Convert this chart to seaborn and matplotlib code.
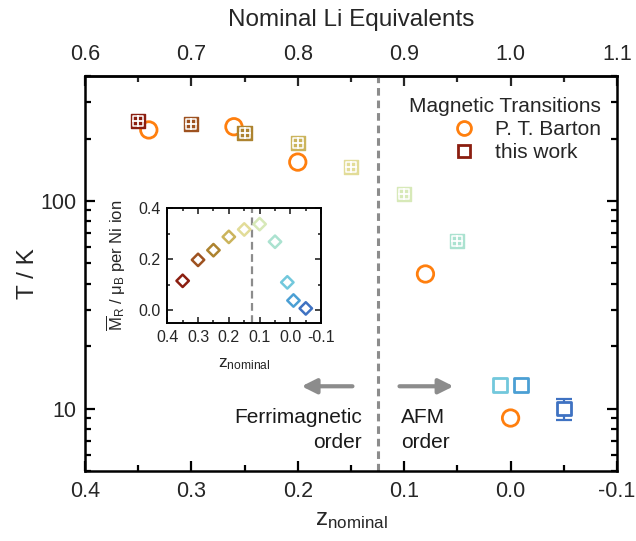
import matplotlib
matplotlib.use("Agg")
import matplotlib.pyplot as plt
import matplotlib.ticker as mticker
from matplotlib.lines import Line2D
import pandas as pd
import seaborn as sns

# transition temperatures, this work
z_work = [0.35, 0.30, 0.25, 0.20, 0.15, 0.10, 0.05, 0.01, -0.01, -0.05]
t_work = [243, 235, 213, 191, 146, 108, 64, 13, 13, 10]
t_work_err = [0, 0, 0, 0, 0, 0, 0, 0, 0, 1.15]
work_crossed = [True, True, True, True, True, True, True, False, False, False]
work_colors = ["#8b1e10", "#9e5220", "#ad832f", "#cbb45c", "#e2dc98",
               "#d7e9b8", "#abe2d0", "#72c8dc", "#4b9fd4", "#3f72c2"]

# transition temperatures, P. T. Barton
z_barton = [0.34, 0.26, 0.20, 0.08, 0.00]
t_barton = [220, 228, 154, 44.5, 9.0]
barton_color = "#ff7f0e"

# inset: remanent magnetisation per Ni ion
m_rem = [0.115, 0.197, 0.235, 0.287, 0.316, 0.337, 0.268, 0.109, 0.038, 0.007]

z_boundary = 0.125
z_ticks = [0.4, 0.3, 0.2, 0.1, 0.0, -0.1]
li_ticks = [0.6, 0.7, 0.8, 0.9, 1.0, 1.1]
m_ticks = [0.0, 0.2, 0.4]

work = pd.DataFrame({"z": z_work, "T": t_work, "err": t_work_err,
                     "crossed": work_crossed, "color": work_colors, "M": m_rem})
barton = pd.DataFrame({"z": z_barton, "T": t_barton})

sns.set_theme(style="ticks")
plt.rcParams["font.family"] = ["Liberation Sans", "DejaVu Sans"]
plt.rcParams["mathtext.default"] = "regular"
plt.rcParams["axes.unicode_minus"] = False

fig = plt.figure(figsize=(6.36, 5.41), dpi=100)
ax = fig.add_axes([0.1336, 0.1294, 0.8365, 0.730])
grey = "#8c8c8c"

ax.axvline(z_boundary, color=grey, lw=2.2, ls=(0, (2.5, 1.6)), zorder=1)

# P. T. Barton (open circles)
sns.scatterplot(data=barton, x="z", y="T", marker="o", s=140, ax=ax, zorder=3)
coll = ax.collections[-1]
coll.set_facecolor("none")
coll.set_edgecolor(barton_color)
coll.set_linewidth(2)

# this work, crossed squares
cr = work[work["crossed"]]
sns.scatterplot(data=cr, x="z", y="T", marker="s", s=105, ax=ax, zorder=4)
coll = ax.collections[-1]
coll.set_facecolor(cr["color"].tolist())
coll.set_edgecolor(cr["color"].tolist())
coll.set_linewidth(1)
sns.scatterplot(data=cr, x="z", y="T", marker="s", s=52, ax=ax, zorder=5)
coll = ax.collections[-1]
coll.set_facecolor("none")
coll.set_edgecolor("white")
coll.set_linewidth(1.1)
sns.scatterplot(data=cr, x="z", y="T", marker="+", s=66, ax=ax, zorder=6)
coll = ax.collections[-1]
coll.set_edgecolor("white")
coll.set_facecolor("white")
coll.set_linewidth(1.3)

# this work, open squares
op = work[~work["crossed"]]
for _, r in op[op["err"] > 0].iterrows():
    ax.errorbar(r["z"], r["T"], yerr=r["err"], fmt="none", ecolor=r["color"],
                elinewidth=1.6, capsize=5.5, capthick=1.6, zorder=3)
sns.scatterplot(data=op, x="z", y="T", marker="s", s=100, ax=ax, zorder=4)
coll = ax.collections[-1]
coll.set_facecolor("white")
coll.set_edgecolor(op["color"].tolist())
coll.set_linewidth(2)

ax.set_yscale("log")
ax.set_xlim(0.4, -0.1)
ax.set_ylim(5, 400)
ax.set_xticks(z_ticks)
ax.set_xticklabels([f"{v:.1f}" for v in z_ticks])
ax.xaxis.set_minor_locator(mticker.MultipleLocator(0.05))
ax.yaxis.set_major_locator(mticker.FixedLocator([10, 100]))
ax.yaxis.set_major_formatter(mticker.FormatStrFormatter("%d"))
ax.yaxis.set_minor_locator(mticker.LogLocator(base=10, subs=range(2, 10)))
ax.yaxis.set_minor_formatter(mticker.NullFormatter())
ax.tick_params(which="both", direction="in", right=True, labelsize=15.5,
               color="black", width=1.6, pad=6)
ax.tick_params(which="major", length=7)
ax.tick_params(which="minor", length=4)
ax.tick_params(axis="x", pad=7)
for sp in ax.spines.values():
    sp.set_linewidth(1.8)
    sp.set_color("black")
ax.set_xlabel("z$_{nominal}$", fontsize=17.5, labelpad=5)
ax.set_ylabel("T / K", fontsize=17.5, labelpad=1)

top = ax.secondary_xaxis("top", functions=(lambda z: 1 - z, lambda li: 1 - li))
top.set_xticks(li_ticks)
top.set_xticklabels([f"{v:.1f}" for v in li_ticks])
top.xaxis.set_minor_locator(mticker.MultipleLocator(0.05))
top.tick_params(which="both", direction="in", labelsize=15.5, width=1.6, pad=8)
top.tick_params(which="major", length=7)
top.tick_params(which="minor", length=4)
top.spines["top"].set_linewidth(1.8)
top.set_xlabel("Nominal Li Equivalents", fontsize=17.5, labelpad=13)

# arrows and region labels
ax.annotate("", xy=(0.199, 12.8), xytext=(0.146, 12.8),
            arrowprops=dict(arrowstyle="-|>", color=grey, lw=3, mutation_scale=22))
ax.annotate("", xy=(0.051, 12.8), xytext=(0.107, 12.8),
            arrowprops=dict(arrowstyle="-|>", color=grey, lw=3, mutation_scale=22))
ax.text(0.140, 7.9, "Ferrimagnetic\norder", ha="right", va="center",
        fontsize=15, color="#1a1a1a", linespacing=1.4)
ax.text(0.103, 7.9, "AFM\norder", ha="left", va="center",
        fontsize=15, color="#1a1a1a", linespacing=1.4)

handles = [
    Line2D([], [], ls="none", marker="o", ms=10, mfc="none", mec=barton_color, mew=2),
    Line2D([], [], ls="none", marker="s", ms=9, mfc="none", mec=work_colors[0], mew=2),
]
ax.legend(handles, ["P. T. Barton", "this work"], title="Magnetic Transitions",
          loc="upper right", bbox_to_anchor=(0.97, 0.947), frameon=False,
          fontsize=15, title_fontsize=15, alignment="right", handletextpad=0.5,
          labelspacing=0.2, borderaxespad=0, borderpad=0)

# inset
ins = fig.add_axes([0.263, 0.403, 0.242, 0.2125])
ins.axvline(z_boundary, color=grey, lw=1.6, ls=(0, (3.5, 2)), zorder=1)
sns.scatterplot(data=work, x="z", y="M", marker="D", s=40, ax=ins, zorder=3)
coll = ins.collections[-1]
coll.set_facecolor("white")
coll.set_edgecolor(work["color"].tolist())
coll.set_linewidth(1.8)
ins.set_xlim(0.4, -0.1)
ins.set_ylim(-0.05, 0.4)
ins.set_xticks(z_ticks)
ins.set_xticklabels([f"{v:.1f}" for v in z_ticks])
ins.set_yticks(m_ticks)
ins.set_yticklabels([f"{v:.1f}" for v in m_ticks])
ins.xaxis.set_minor_locator(mticker.MultipleLocator(0.05))
ins.yaxis.set_minor_locator(mticker.MultipleLocator(0.1))
ins.tick_params(which="both", direction="in", top=True, right=True,
                labelsize=11.5, width=1.2, pad=5)
ins.tick_params(which="major", length=4)
ins.tick_params(which="minor", length=2)
for sp in ins.spines.values():
    sp.set_linewidth(1.4)
    sp.set_color("black")
ins.set_xlabel("z$_{nominal}$", fontsize=12.5, labelpad=8)
ins.set_ylabel(r"$\overline{M}_R$ / μ$_B$ per Ni ion", fontsize=12, labelpad=7)

fig.savefig("out.png", dpi=100)
